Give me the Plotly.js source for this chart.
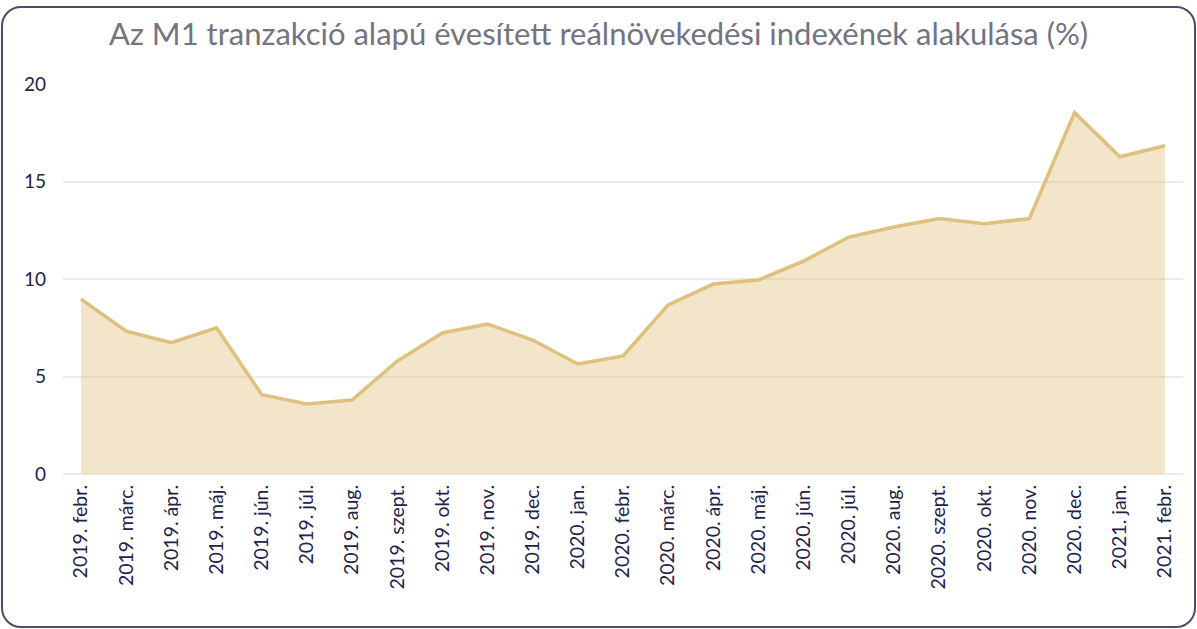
<!DOCTYPE html>
<html>
<head>
<meta charset="utf-8">
<script src="https://cdn.plot.ly/plotly-3.0.1.min.js"></script>
<style>
html,body{margin:0;padding:0;background:#fff;}
#wrap{position:relative;width:1197px;height:629px;overflow:hidden;}
#chart{position:absolute;left:0;top:0;width:1197px;height:629px;}
#frame{position:absolute;left:1px;top:6px;width:1195px;height:622px;box-sizing:border-box;border:2px solid #4c4c6c;border-radius:20px;pointer-events:none;}
</style>
</head>
<body>
<div id="wrap"><div id="chart"></div><div id="frame"></div></div>
<script>
const categories = ["2019. febr.","2019. márc.","2019. ápr.","2019. máj.","2019. jún.","2019. júl.","2019. aug.","2019. szept.","2019. okt.","2019. nov.","2019. dec.","2020. jan.","2020. febr.","2020. márc.","2020. ápr.","2020. máj.","2020. jún.","2020. júl.","2020. aug.","2020. szept.","2020. okt.","2020. nov.","2020. dec.","2021. jan.","2021. febr."];
const values = [8.97,7.33,6.73,7.50,4.07,3.59,3.79,5.79,7.23,7.69,6.87,5.64,6.05,8.67,9.74,9.95,10.92,12.15,12.67,13.1,12.83,13.1,18.53,16.27,16.83];
const yTicks = [0,5,10,15,20];

const trace = {
  x: categories.map((c,i)=>i),
  y: values,
  type: 'scatter',
  mode: 'lines',
  fill: 'tozeroy',
  fillcolor: 'rgba(222,190,120,0.4)',
  line: {color: '#dfc07c', width: 3.5},
  hoverinfo: 'skip'
};

const layout = {
  width: 1197, height: 629,
  margin: {l: 63, r: 14, t: 84, b: 155},
  paper_bgcolor: 'rgba(0,0,0,0)',
  plot_bgcolor: 'rgba(0,0,0,0)',
  showlegend: false,
  title: {text: 'Az M1 tranzakció alapú évesített reálnövekedési indexének alakulása (%)',
          font: {family: 'Lato, "Open Sans", sans-serif', size: 31, color: '#737382'},
          x: 0.5, xanchor: 'center', y: 0.945, yanchor: 'middle'},
  xaxis: {
    range: [-0.4, 24.4],
    tickmode: 'array',
    tickvals: categories.map((c,i)=>i),
    ticktext: categories,
    tickangle: -90,
    ticks: '',
    ticklabelstandoff: 6,
    showgrid: false, zeroline: false, showline: false,
    tickfont: {family: 'Lato, "Open Sans", sans-serif', size: 19.5, color: '#22224a'}
  },
  yaxis: {
    range: [0, 20],
    tickmode: 'array',
    tickvals: yTicks,
    ticktext: yTicks.map(String),
    ticks: '',
    ticklabelstandoff: 16,
    showgrid: true, gridcolor: '#ebebeb', gridwidth: 2,
    zeroline: true, zerolinecolor: '#ebebeb', zerolinewidth: 2,
    showline: false,
    tickfont: {family: 'Lato, "Open Sans", sans-serif', size: 19, color: '#22224a'}
  }
};

Plotly.newPlot('chart', [trace], layout, {displayModeBar: false, staticPlot: true});
</script>
</body>
</html>
